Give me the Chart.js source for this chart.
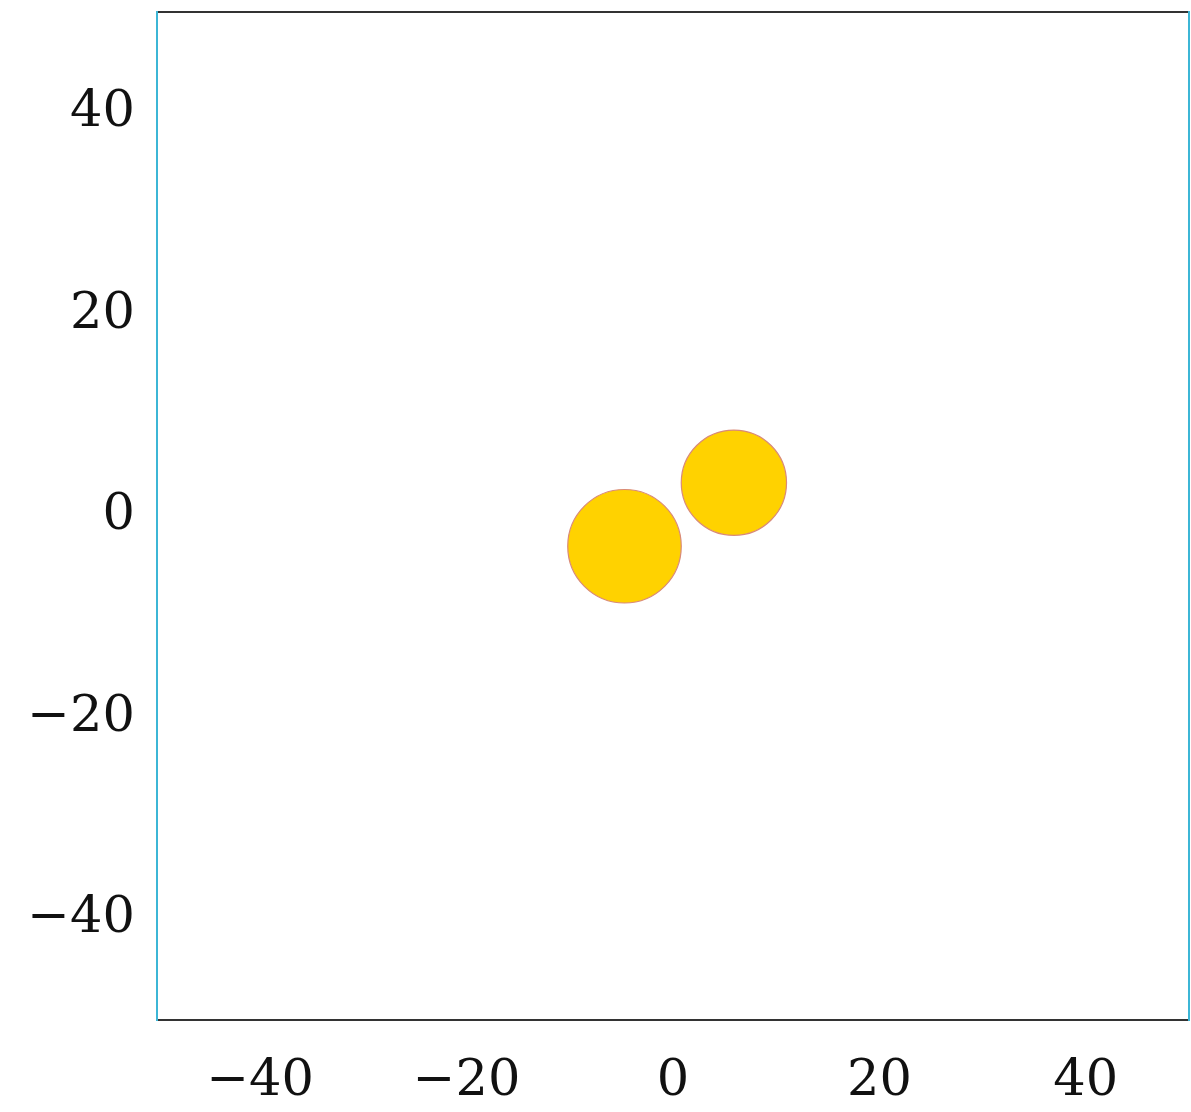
<!DOCTYPE html>
<html>
<head>
<meta charset="utf-8">
<style>
  html, body { margin: 0; padding: 0; background: #ffffff; }
  #wrap { width: 1191px; height: 1112px; }
</style>
<script src="https://cdn.jsdelivr.net/npm/chart.js@4/dist/chart.umd.min.js"></script>
</head>
<body>
<div id="wrap"><canvas id="c" width="1191" height="1112"></canvas></div>
<script>
// Two discs: centre (x, y) and radius r, all in axis units
const discX = [-4.7, 5.9];
const discY = [-3.0, 3.3];
const discR = [5.5, 5.1];

// Axis range and ticks
const axisMin = -50;
const axisMax = 50;
const tickValues = [-40, -20, 0, 20, 40];
const tickLabels = ['\u221240', '\u221220', '0', '20', '40'];

const points = discX.map((x, i) => ({ x: x, y: discY[i], r: discR[i] }));

const tickFont = { family: '"DejaVu Serif", "Liberation Serif", serif', size: 51, weight: 'normal' };
const labelFor = v => {
  const i = tickValues.indexOf(v);
  return i >= 0 ? tickLabels[i] : '';
};
const fixedTicks = axis => { axis.ticks = tickValues.map(v => ({ value: v })); };
// keep tick labels from pushing the plot frame inwards
const noOverflow = a => { a.paddingTop = 0; a.paddingBottom = 0; a.paddingLeft = 0; a.paddingRight = 0; };

// radius given in axis units -> pixels along the x scale
const radiusPx = ctx => {
  const s = ctx.chart.scales.x;
  const r = ctx.raw ? ctx.raw.r : 0;
  return Math.abs(s.getPixelForValue(r) - s.getPixelForValue(0));
};

new Chart(document.getElementById('c'), {
  type: 'scatter',
  data: {
    datasets: [{
      data: points,
      backgroundColor: '#ffd200',
      borderColor: '#d98a78',
      borderWidth: 1.2,
      pointRadius: radiusPx,
      pointHoverRadius: radiusPx
    }]
  },
  options: {
    responsive: false,
    animation: false,
    events: [],
    layout: { autoPadding: false, padding: { top: 12, right: 2, left: 0, bottom: 0 } },
    plugins: { legend: { display: false }, tooltip: { enabled: false } },
    scales: {
      x: {
        type: 'linear', position: 'bottom', min: axisMin, max: axisMax,
        afterBuildTicks: fixedTicks,
        afterFit: a => { a.height = 92; noOverflow(a); },
        grid: { display: false, drawTicks: false },
        border: { display: true, color: '#333333', width: 2 },
        ticks: { font: tickFont, color: '#111111', padding: 31, maxRotation: 0, autoSkip: false, callback: labelFor }
      },
      xTop: {
        type: 'linear', position: 'top', min: axisMin, max: axisMax,
        afterFit: a => { a.height = 0; noOverflow(a); },
        grid: { display: false, drawTicks: false },
        border: { display: true, color: '#333333', width: 2 },
        ticks: { display: false }
      },
      y: {
        type: 'linear', position: 'left', min: axisMin, max: axisMax,
        afterBuildTicks: fixedTicks,
        afterFit: a => { a.width = 157; noOverflow(a); },
        grid: { display: false, drawTicks: false },
        border: { display: true, color: '#3cb6d6', width: 2 },
        ticks: { font: tickFont, color: '#111111', padding: 22, autoSkip: false, callback: labelFor }
      },
      yRight: {
        type: 'linear', position: 'right', min: axisMin, max: axisMax,
        afterFit: a => { a.width = 0; noOverflow(a); },
        grid: { display: false, drawTicks: false },
        border: { display: true, color: '#3cb6d6', width: 2 },
        ticks: { display: false }
      }
    }
  }
});
</script>
</body>
</html>
